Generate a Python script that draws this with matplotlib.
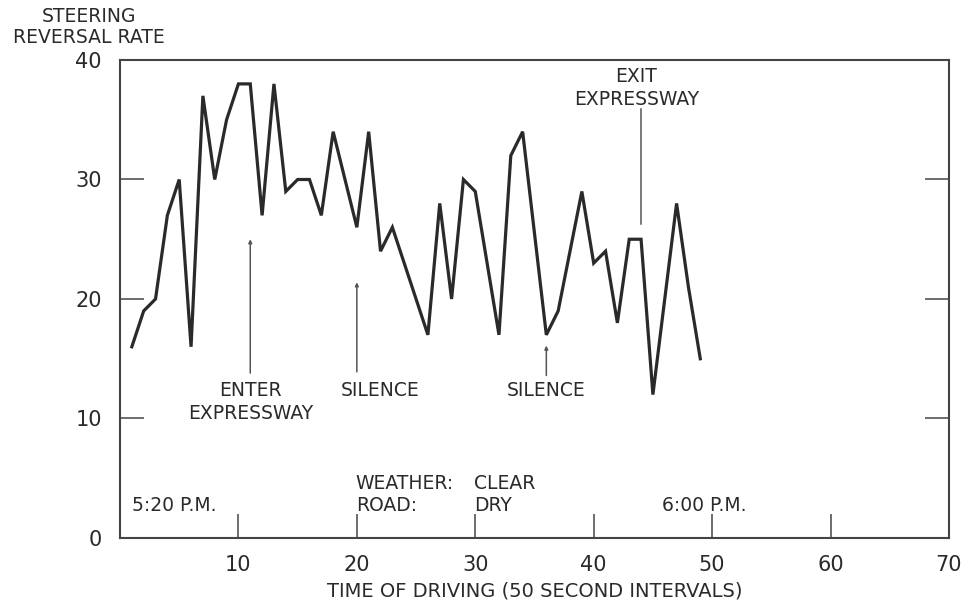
import matplotlib
matplotlib.use("Agg")
import matplotlib.pyplot as plt

# Steering reversal rate per 50-second interval
intervals = list(range(1, 50))
reversal_rate = [16, 19, 20, 27, 30, 16, 37, 30, 35, 38,
                 38, 27, 38, 29, 30, 30, 27, 34, 30, 26,
                 34, 24, 26, 23, 20, 17, 28, 20, 30, 29,
                 23, 17, 32, 34, 25.5, 17, 19, 24, 29, 23,
                 24, 18, 25, 25, 12, 20, 28, 21, 15]

x_ticks = [10, 20, 30, 40, 50, 60, 70]
y_ticks = [0, 10, 20, 30, 40]

# Event markers: (label lines, arrow x, arrow y from, arrow y to, text x, text y)
events = [
    ("ENTER\nEXPRESSWAY", 11, 13.8, 25.0, 11.0, 13.1),
    ("SILENCE", 20, 13.9, 21.4, 22.0, 13.1),
    ("SILENCE", 36, 13.6, 16.1, 36.0, 13.1),
]

ink = "#2a2a2a"
fs = 13.5
plt.rcParams["font.family"] = ["DejaVu Sans"]

fig = plt.figure(figsize=(9.74, 6.03), dpi=100)
ax = fig.add_axes([0.1232, 0.1078, 0.8511, 0.7927])

ax.plot(intervals, reversal_rate, color=ink, lw=2.3, solid_joinstyle="miter")

ax.set_xlim(0, 70)
ax.set_ylim(0, 40)
ax.set_xticks(x_ticks)
ax.set_yticks(y_ticks)
ax.set_xticklabels([str(t) for t in x_ticks], fontsize=15, color=ink)
ax.set_yticklabels([str(t) for t in y_ticks], fontsize=15, color=ink)
ax.tick_params(axis="x", direction="in", length=17, width=1.2, colors="#555555",
               pad=12, labelcolor=ink)
ax.tick_params(axis="y", direction="in", length=17, width=1.2, colors="#555555",
               pad=13, labelcolor=ink, right=True)
for s in ax.spines.values():
    s.set_color("#444444")
    s.set_linewidth(1.5)

ax.set_xlabel("TIME OF DRIVING (50 SECOND INTERVALS)", fontsize=14,
              color=ink, labelpad=5)
fig.text(0.0914, 0.972, "STEERING", ha="center", va="center",
         fontsize=fs, color=ink)
fig.text(0.0914, 0.937, "REVERSAL RATE", ha="center", va="center",
         fontsize=fs, color=ink)

# Event arrows and labels
for label, xa, y0, y1, xt, yt in events:
    ax.annotate("", xy=(xa, y1), xytext=(xa, y0),
                arrowprops=dict(arrowstyle="-|>", color="#555555", lw=1.1,
                                mutation_scale=5, shrinkA=0, shrinkB=0))
    ax.text(xt, yt, label, ha="center", va="top", fontsize=fs,
            color=ink, linespacing=1.25)

# Exit marker: label above, line pointing down
ax.text(43.6, 39.4, "EXIT\nEXPRESSWAY", ha="center", va="top", fontsize=fs,
        color=ink, linespacing=1.25)
ax.plot([44, 44], [35.9, 26.3], color="#555555", lw=1.1)

# Time and condition notes
ax.text(1.0, 2.7, "5:20 P.M.", ha="left", va="center", fontsize=fs, color=ink)
ax.text(45.8, 2.7, "6:00 P.M.", ha="left", va="center", fontsize=fs, color=ink)
ax.text(19.9, 4.6, "WEATHER:", ha="left", va="center", fontsize=fs, color=ink)
ax.text(29.9, 4.6, "CLEAR", ha="left", va="center", fontsize=fs, color=ink)
ax.text(19.9, 2.7, "ROAD:", ha="left", va="center", fontsize=fs, color=ink)
ax.text(29.9, 2.7, "DRY", ha="left", va="center", fontsize=fs, color=ink)

fig.savefig("out.png", dpi=100)
